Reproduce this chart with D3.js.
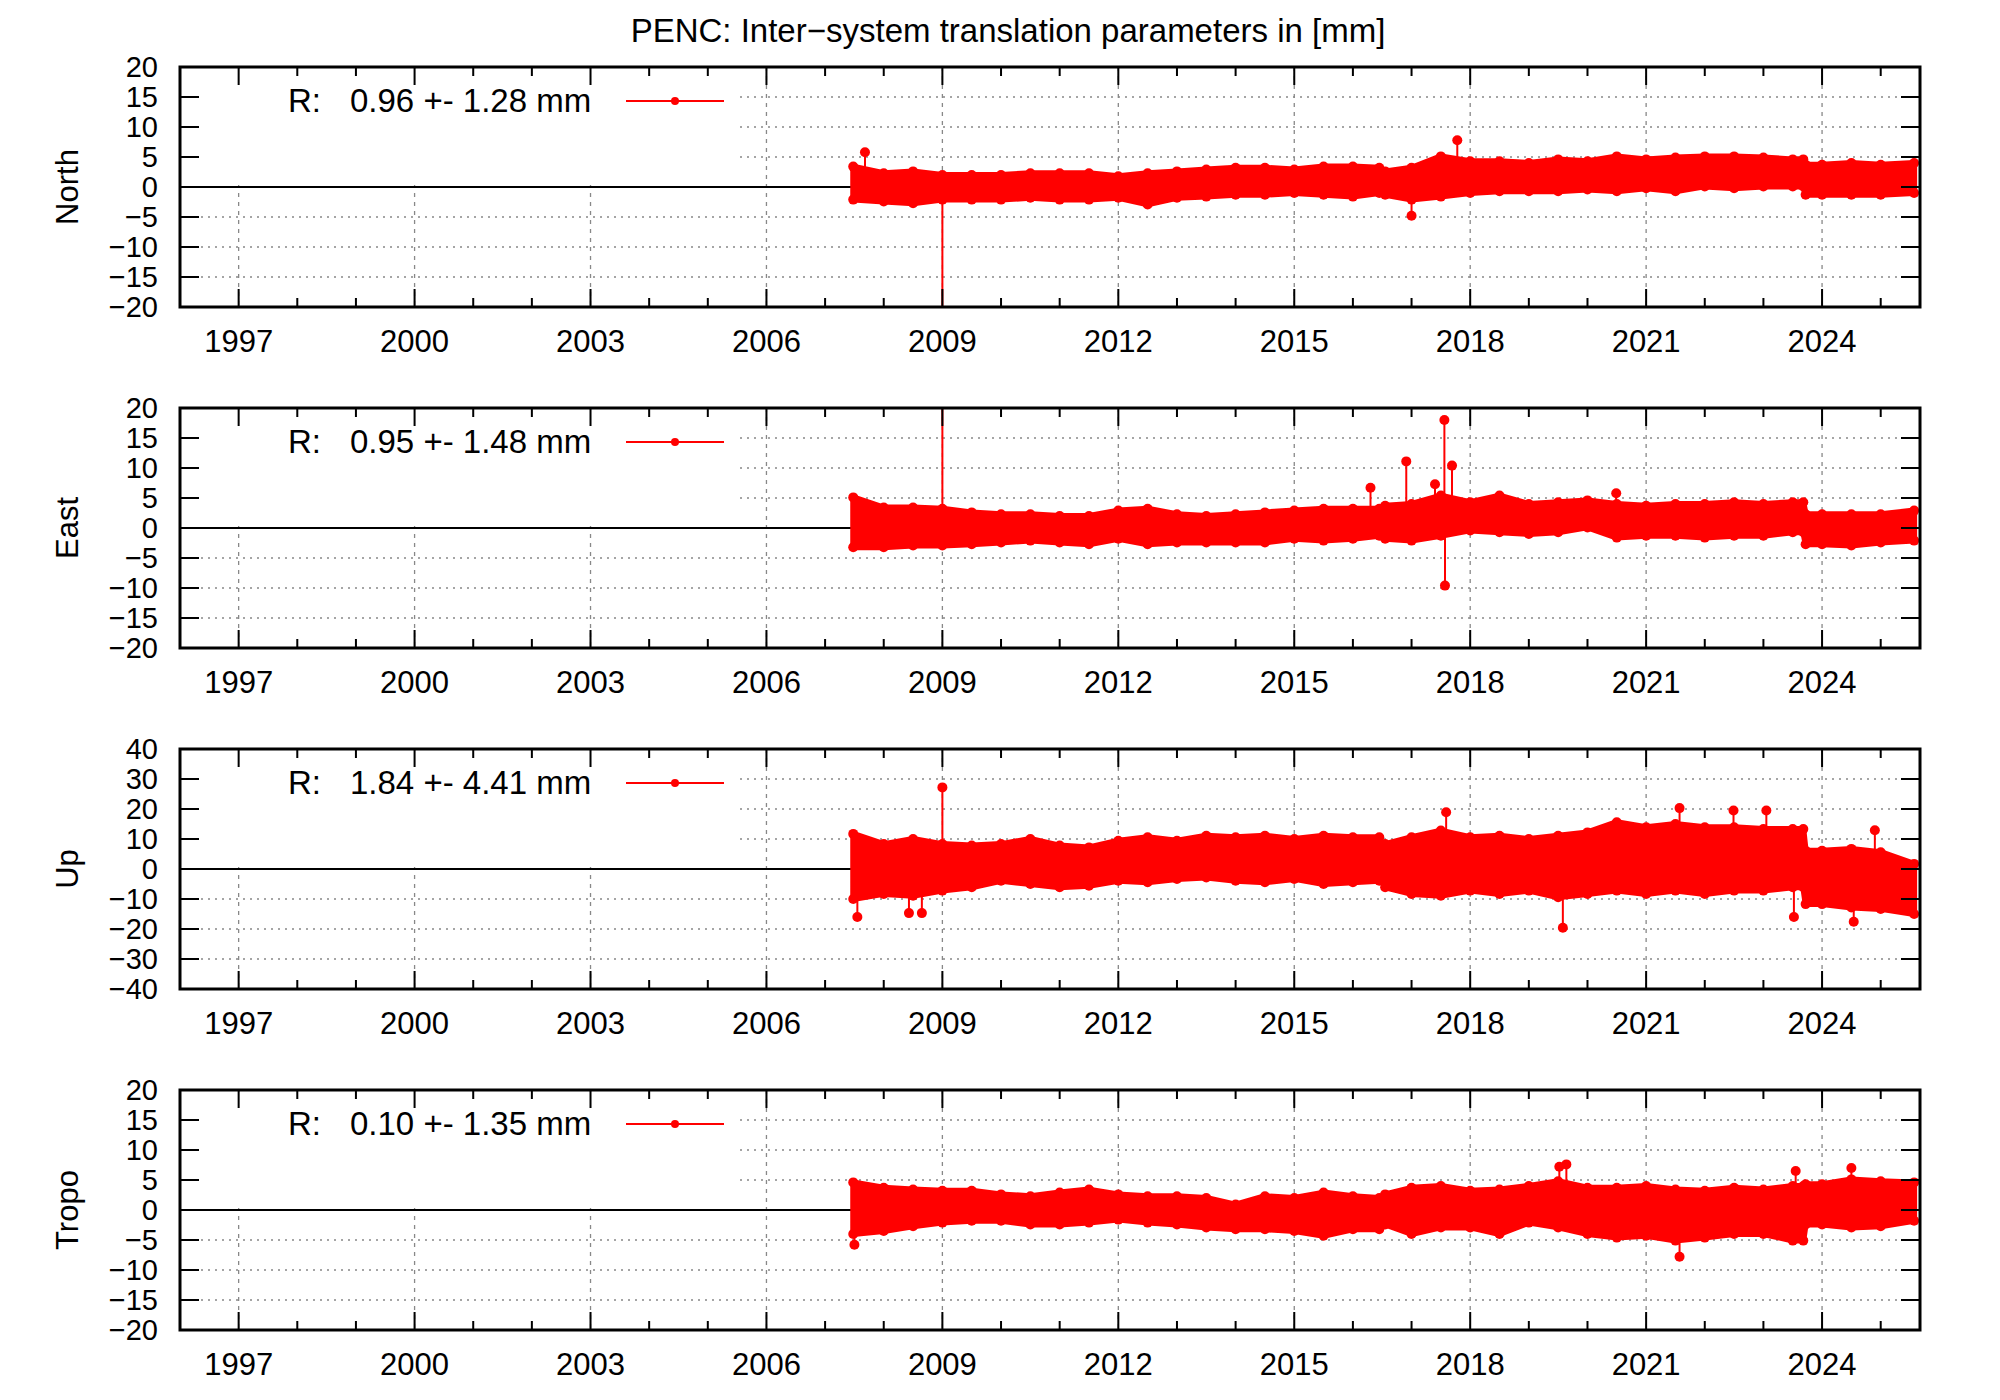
<!DOCTYPE html>
<html>
<head>
<meta charset="utf-8">
<script src="https://cdn.jsdelivr.net/npm/d3@7"></script>
<style>
  body { margin: 0; background: #fff; }
  text { font-family: "Liberation Sans", Arial, sans-serif; }
</style>
</head>
<body>
<svg id="chart" width="2000" height="1400"></svg>
<script>
// half-year sample epochs of the envelope, null marks the data gap in mid 2016
const epochs = [2007.48, 2008, 2008.5, 2009, 2009.5, 2010, 2010.5, 2011, 2011.5, 2012, 2012.5,
  2013, 2013.5, 2014, 2014.5, 2015, 2015.5, 2016, 2016.45, null, 2016.55, 2017, 2017.5,
  2018, 2018.5, 2019, 2019.5, 2020, 2020.5, 2021, 2021.5, 2022, 2022.5, 2023, 2023.5,
  2023.68, 2023.72, 2024, 2024.5, 2025, 2025.57]

const panelNames = ["North", "East", "Up", "Tropo"]
const legendTexts = ["0.96 +- 1.28 mm", "0.95 +- 1.48 mm", "1.84 +- 4.41 mm", "0.10 +- 1.35 mm"]
const yLimits = [20, 20, 40, 20]
const yStep = [5, 5, 10, 5]
const yearTicks = [1997, 2000, 2003, 2006, 2009, 2012, 2015, 2018, 2021, 2024]

const northHi = [3.4, 2.3, 2.6, 2.0, 2.0, 2.0, 2.3, 2.3, 2.3, 1.8, 2.3, 2.6, 2.9, 3.2, 3.2, 2.9, 3.4, 3.4, 3.2, null, 2.6, 3.2, 5.1, 4.3, 4.3, 4.0, 4.6, 4.3, 5.1, 4.6, 4.9, 5.1, 5.1, 4.9, 4.6, 4.6, 3.7, 3.7, 4.0, 3.7, 4.0]
const northLo = [-2.1, -2.4, -2.7, -2.1, -2.1, -2.1, -1.8, -2.1, -2.1, -1.8, -2.9, -1.8, -1.6, -1.3, -1.3, -1.0, -1.3, -1.6, -1.0, null, -1.3, -2.1, -1.6, -1.0, -0.7, -0.7, -0.7, -0.4, -0.7, -0.2, -0.7, 0.1, -0.2, 0.1, 0.1, 0.1, -1.3, -1.3, -1.3, -1.3, -1.0]
const eastHi = [5.1, 3.4, 3.4, 3.2, 2.6, 2.3, 2.3, 2.0, 2.0, 2.9, 3.2, 2.3, 2.0, 2.3, 2.6, 2.9, 3.2, 3.2, 3.2, null, 3.7, 4.0, 5.4, 4.3, 5.4, 4.0, 4.3, 4.6, 4.0, 3.7, 4.0, 4.0, 4.3, 4.0, 4.3, 4.3, 2.3, 2.3, 2.3, 2.3, 2.9]
const eastLo = [-3.2, -3.2, -2.9, -2.9, -2.7, -2.4, -2.1, -2.4, -2.7, -1.8, -2.7, -2.4, -2.4, -2.4, -2.4, -1.8, -2.1, -1.8, -1.3, null, -1.8, -2.1, -1.3, -0.4, -0.7, -1.0, -0.7, 0.1, -1.6, -1.3, -1.3, -1.6, -1.3, -1.3, -0.7, -0.7, -2.7, -2.7, -2.9, -2.4, -2.1]
const upHi = [11.7, 8.3, 10.0, 8.3, 7.8, 8.3, 10.0, 7.8, 7.2, 9.4, 10.6, 9.4, 11.1, 10.6, 11.1, 10.0, 11.1, 10.6, 10.6, null, 8.3, 10.6, 12.8, 10.6, 11.1, 10.0, 11.1, 12.2, 15.6, 13.9, 15.0, 13.9, 13.9, 13.3, 13.3, 13.3, 6.1, 6.1, 6.7, 5.6, 1.7]
const upLo = [-10.0, -8.3, -8.9, -7.2, -6.1, -3.9, -5.0, -6.1, -5.6, -3.9, -4.4, -3.3, -2.8, -3.9, -4.4, -3.3, -5.0, -4.4, -3.9, null, -6.1, -8.3, -8.9, -7.2, -8.3, -7.2, -9.4, -8.3, -7.2, -8.3, -7.2, -8.3, -7.2, -7.2, -6.1, -6.1, -11.7, -11.7, -12.8, -13.3, -15.0]
const tropoHi = [4.6, 3.7, 3.4, 3.2, 3.2, 2.6, 2.3, 2.9, 3.4, 2.6, 2.3, 2.3, 2.0, 0.9, 2.3, 2.0, 2.9, 2.3, 2.0, null, 2.6, 3.7, 4.0, 3.2, 3.4, 4.0, 4.8, 3.7, 3.7, 4.0, 3.4, 3.2, 3.7, 3.4, 4.0, 4.0, 4.3, 4.3, 5.1, 4.8, 4.6]
const tropoLo = [-4.0, -3.5, -2.7, -2.1, -1.8, -1.8, -2.4, -2.4, -2.1, -1.6, -2.1, -2.4, -2.9, -3.2, -3.2, -3.5, -4.3, -3.2, -3.2, null, -2.4, -4.0, -2.9, -2.9, -4.0, -2.1, -2.9, -4.0, -4.6, -4.3, -5.1, -4.6, -4.0, -4.0, -5.1, -5.1, -2.4, -2.4, -2.9, -2.7, -1.8]

// isolated outliers: [epoch, value]
const northSpikes = [[2007.68, 5.8], [2009.0, -26], [2017.0, -4.8], [2017.78, 7.8]]
const eastSpikes = [[2009.0, 26], [2016.3, 6.7], [2016.91, 11.1], [2017.4, 7.3], [2017.56, 18.0], [2017.57, -9.6], [2017.69, 10.4], [2020.49, 5.8]]
const upSpikes = [[2007.55, -16], [2008.43, -14.7], [2008.65, -14.7], [2009.0, 27.2], [2017.59, 18.9], [2019.58, -19.6], [2021.57, 20.3], [2022.49, 19.5], [2023.05, 19.5], [2023.52, -16], [2024.54, -17.6], [2024.9, 12.9]]
const tropoSpikes = [[2007.5, -5.8], [2019.52, 7.2], [2019.64, 7.6], [2021.57, -7.8], [2023.55, 6.5], [2024.5, 7.0]]

const hiSeries = [northHi, eastHi, upHi, tropoHi]
const loSeries = [northLo, eastLo, upLo, tropoLo]
const spikeSeries = [northSpikes, eastSpikes, upSpikes, tropoSpikes]

const svg = d3.select("#chart")
const left = 180, right = 1920, ph = 240
const tops = [67, 408, 749, 1090]
const red = "#ff0000"

svg.append("text")
  .attr("x", 1008).attr("y", 42)
  .attr("text-anchor", "middle")
  .attr("font-size", 33)
  .text("PENC: Inter\u2212system translation parameters in [mm]")

const x = d3.scaleLinear().domain([1996, 2025.67]).range([left, right])

panelNames.forEach((name, i) => {
  const top = tops[i]
  const lim = yLimits[i]
  const y = d3.scaleLinear().domain([-lim, lim]).range([top + ph, top])
  const g = svg.append("g")
  const yTicks = d3.range(-lim, lim + 0.01, yStep[i])
  const minorYears = d3.range(1997, 2026).filter(v => !yearTicks.includes(v))

  // grid
  g.selectAll(".hg").data(yTicks.filter(v => v !== 0 && Math.abs(v) !== lim)).enter()
    .append("line")
    .attr("x1", left).attr("x2", right)
    .attr("y1", d => y(d)).attr("y2", d => y(d))
    .attr("stroke", "#888").attr("stroke-width", 1.3).attr("stroke-dasharray", "2,5")
  g.selectAll(".vg").data(yearTicks).enter()
    .append("line")
    .attr("x1", d => x(d)).attr("x2", d => x(d))
    .attr("y1", top).attr("y2", top + ph)
    .attr("stroke", "#888").attr("stroke-width", 1.3).attr("stroke-dasharray", "4,5")

  // opaque legend box
  g.append("rect").attr("x", left + 2).attr("y", top + 2)
    .attr("width", 556).attr("height", y(0) - top - 4).attr("fill", "#fff")

  g.append("line").attr("x1", left).attr("x2", right)
    .attr("y1", y(0)).attr("y2", y(0)).attr("stroke", "#000").attr("stroke-width", 2)

  // data
  const clipId = "clip" + i
  svg.append("clipPath").attr("id", clipId).append("rect")
    .attr("x", left).attr("y", top).attr("width", right - left).attr("height", ph)
  const dg = g.append("g").attr("clip-path", `url(#${clipId})`)
  const rows = epochs.map((t, k) => ({ t, hi: hiSeries[i][k], lo: loSeries[i][k] }))
  const area = d3.area()
    .defined(d => d.t !== null)
    .x(d => x(d.t)).y0(d => y(d.lo)).y1(d => y(d.hi))
  dg.append("path").datum(rows).attr("d", area)
    .attr("fill", red).attr("stroke", red).attr("stroke-width", 6).attr("stroke-linejoin", "round")
  const pts = rows.filter(d => d.t !== null)
  dg.selectAll(".ph").data(pts).enter().append("circle")
    .attr("cx", d => x(d.t)).attr("cy", d => y(d.hi)).attr("r", 5).attr("fill", red)
  dg.selectAll(".pl").data(pts).enter().append("circle")
    .attr("cx", d => x(d.t)).attr("cy", d => y(d.lo)).attr("r", 5).attr("fill", red)
  dg.selectAll(".sl").data(spikeSeries[i]).enter().append("line")
    .attr("x1", d => x(d[0])).attr("x2", d => x(d[0]))
    .attr("y1", y(0)).attr("y2", d => y(d[1]))
    .attr("stroke", red).attr("stroke-width", 2)
  dg.selectAll(".sd").data(spikeSeries[i]).enter().append("circle")
    .attr("cx", d => x(d[0])).attr("cy", d => y(d[1])).attr("r", 5).attr("fill", red)

  // ticks
  g.selectAll(".ylt").data(yTicks).enter().append("path")
    .attr("d", d => `M${left},${y(d)}h19M${right},${y(d)}h-19`)
    .attr("stroke", "#000").attr("stroke-width", 2)
  g.selectAll(".xmt").data(yearTicks).enter().append("path")
    .attr("d", d => `M${x(d)},${top + ph}v-18M${x(d)},${top}v18`)
    .attr("stroke", "#000").attr("stroke-width", 2)
  g.selectAll(".xnt").data(minorYears).enter().append("path")
    .attr("d", d => `M${x(d)},${top + ph}v-9M${x(d)},${top}v9`)
    .attr("stroke", "#000").attr("stroke-width", 2)

  g.append("rect").attr("x", left).attr("y", top)
    .attr("width", right - left).attr("height", ph)
    .attr("fill", "none").attr("stroke", "#000").attr("stroke-width", 3)

  // labels
  g.selectAll(".ytl").data(yTicks).enter().append("text")
    .attr("x", left - 22).attr("y", d => y(d) + 10)
    .attr("text-anchor", "end").attr("font-size", 29)
    .text(d => d < 0 ? "\u2212" + Math.abs(d) : d)
  g.selectAll(".xtl").data(yearTicks).enter().append("text")
    .attr("x", d => x(d)).attr("y", top + ph + 45)
    .attr("text-anchor", "middle").attr("font-size", 31)
    .text(d => d)
  g.append("text")
    .attr("transform", `translate(78,${top + ph / 2}) rotate(-90)`)
    .attr("text-anchor", "middle").attr("font-size", 31)
    .text(name)

  // legend
  g.append("text").attr("x", 288).attr("y", top + 45).attr("font-size", 33).text("R:")
  g.append("text").attr("x", 350).attr("y", top + 45).attr("font-size", 33).text(legendTexts[i])
  g.append("line").attr("x1", 626).attr("x2", 724)
    .attr("y1", top + 34).attr("y2", top + 34).attr("stroke", red).attr("stroke-width", 2)
  g.append("circle").attr("cx", 675).attr("cy", top + 34).attr("r", 4).attr("fill", red)
})
</script>
</body>
</html>
